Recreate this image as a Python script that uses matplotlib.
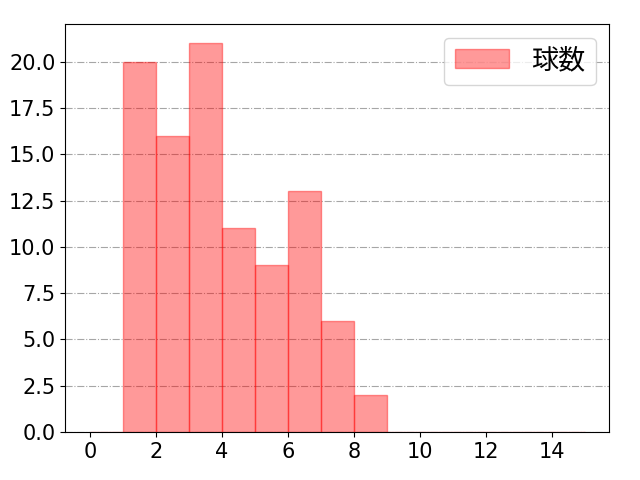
import numpy as np
import matplotlib
matplotlib.use("Agg")
import matplotlib.pyplot as plt

plt.rcParams['font.family'] = ['DejaVu Sans', 'Noto Sans CJK JP']
plt.rcParams['font.size'] = 15

# 打席ごとの球数（ビンの左端と度数）
bin_edges = list(range(0, 16))
counts = [0, 20, 16, 21, 11, 9, 13, 6, 2, 0, 0, 0, 0, 0, 0]
xticks = list(range(0, 15, 2))
label = '球数'

fig, ax = plt.subplots(figsize=(6.4, 4.8), dpi=100)
ax.hist(bin_edges[:-1], bins=bin_edges, weights=counts,
        color='red', alpha=0.4, edgecolor='red', linewidth=1, label=label)
ax.set_xticks(xticks)
ax.grid(axis='y', linestyle='-.', color='gray', alpha=0.7)
ax.set_axisbelow(True)
ax.legend(loc='upper right', fontsize=19.5)
fig.subplots_adjust(left=0.102, right=0.952, top=0.95, bottom=0.1)
fig.savefig('out.png')
